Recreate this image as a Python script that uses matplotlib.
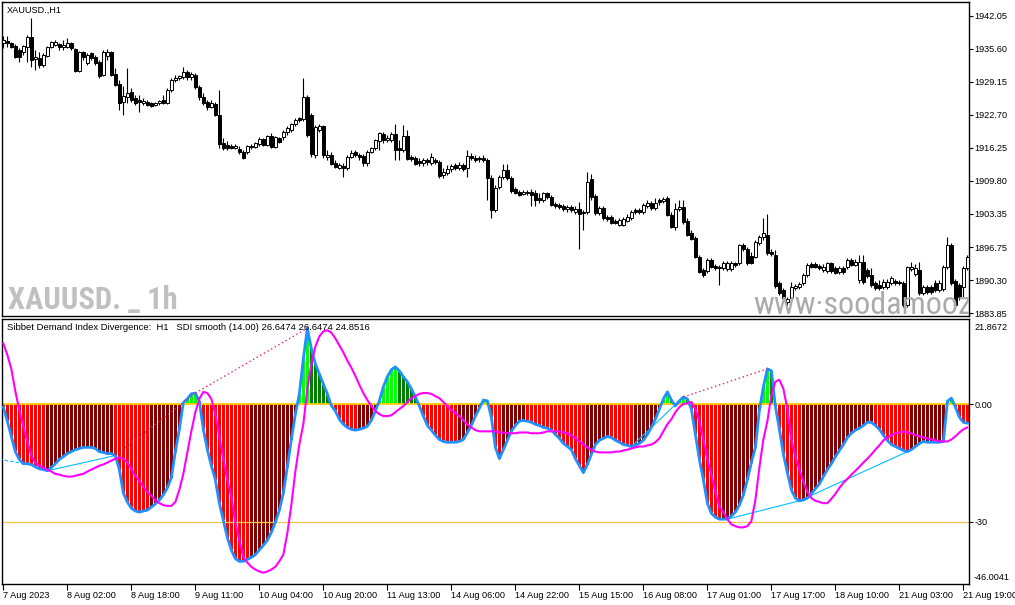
import numpy as np
import matplotlib.pyplot as plt
from matplotlib import font_manager as fm

plt.rcParams['font.family'] = ['Liberation Sans', 'DejaVu Sans']
plt.rcParams['font.size'] = 6.6

# ---- XAUUSD H1 candles (7 Aug 2023 .. 21 Aug 2023) ----
opens = [1936.7, 1937.1, 1936.7, 1936.1, 1935.3, 1934.9, 1935.9, 1937.9, 1933.6, 1933.8,
         1932.4, 1934.2, 1935.9, 1936.3, 1936.5, 1935.9, 1935.9, 1936.7, 1935.5, 1931.2,
         1934.9, 1932.8, 1934.8, 1934.0, 1933.0, 1930.5, 1934.2, 1934.9, 1930.6, 1928.7,
         1925.2, 1926.1, 1927.1, 1925.9, 1925.5, 1925.0, 1925.2, 1925.0, 1924.6, 1925.0,
         1925.5, 1925.0, 1927.5, 1929.5, 1929.9, 1930.1, 1931.0, 1930.1, 1930.5, 1928.1,
         1926.1, 1925.2, 1924.2, 1924.8, 1922.6, 1917.1, 1916.8, 1916.6, 1916.2, 1916.0,
         1915.4, 1915.4, 1916.4, 1916.4, 1916.9, 1917.9, 1916.8, 1918.5, 1916.4, 1918.1,
         1918.3, 1919.3, 1919.7, 1920.9, 1922.0, 1921.8, 1926.1, 1922.6, 1914.8, 1919.7,
         1920.5, 1914.4, 1914.8, 1913.2, 1912.3, 1912.6, 1912.3, 1914.4, 1915.4, 1914.8,
         1914.6, 1913.2, 1915.4, 1916.2, 1917.5, 1918.9, 1917.7, 1917.7, 1918.9, 1916.2,
         1915.8, 1918.5, 1914.4, 1914.2, 1913.6, 1913.2, 1913.8, 1913.2, 1913.8, 1913.4,
         1910.9, 1911.3, 1912.1, 1912.8, 1912.3, 1912.8, 1912.3, 1914.6, 1914.2, 1914.2,
         1914.2, 1913.8, 1910.3, 1904.0, 1908.5, 1910.5, 1911.9, 1910.3, 1908.1, 1907.5,
         1907.2, 1907.4, 1907.5, 1907.4, 1906.4, 1906.0, 1907.4, 1906.6, 1905.2, 1905.0,
         1904.8, 1904.2, 1904.6, 1903.6, 1904.2, 1903.6, 1903.6, 1910.1, 1906.8, 1903.4,
         1904.4, 1902.7, 1902.7, 1901.9, 1901.1, 1901.1, 1901.9, 1902.5, 1904.0, 1904.0,
         1903.6, 1904.8, 1905.4, 1904.4, 1906.0, 1905.8, 1906.4, 1903.1, 1900.7, 1904.2,
         1904.6, 1901.9, 1899.5, 1898.6, 1894.8, 1892.3, 1892.1, 1894.2, 1893.1, 1892.9,
         1892.7, 1892.5, 1892.5, 1893.7, 1893.7, 1897.2, 1896.4, 1895.0, 1894.8, 1897.6,
         1898.8, 1899.2, 1895.8, 1895.2, 1889.7, 1888.4, 1886.0, 1886.8, 1888.8, 1889.0,
         1889.7, 1891.3, 1893.5, 1893.5, 1893.1, 1892.3, 1892.1, 1893.7, 1892.7, 1891.9,
         1892.7, 1892.9, 1894.2, 1893.3, 1890.3, 1893.9, 1892.3, 1891.3, 1889.7, 1889.3,
         1889.0, 1889.0, 1889.7, 1890.1, 1889.9, 1889.7, 1885.4, 1892.5, 1891.5, 1892.3,
         1887.8, 1889.0, 1889.0, 1889.7, 1888.4, 1888.6, 1892.9, 1897.2, 1890.1, 1889.3,
         1889.0, 1892.7]
closes = [1937.3, 1936.7, 1935.9, 1934.0, 1934.0, 1936.1, 1937.9, 1933.4, 1934.0, 1932.4,
          1934.4, 1935.9, 1936.9, 1936.9, 1935.9, 1936.3, 1936.7, 1935.7, 1931.2, 1934.9,
          1934.0, 1934.4, 1933.8, 1932.8, 1930.3, 1934.9, 1934.9, 1930.5, 1928.5, 1925.0,
          1926.3, 1926.9, 1925.5, 1925.0, 1925.2, 1925.4, 1924.6, 1924.4, 1925.0, 1925.4,
          1925.0, 1927.5, 1929.5, 1929.9, 1930.3, 1931.0, 1930.1, 1930.6, 1928.1, 1926.1,
          1925.0, 1924.2, 1925.0, 1922.6, 1916.9, 1916.2, 1916.2, 1916.2, 1916.6, 1915.4,
          1914.2, 1916.6, 1916.6, 1917.1, 1917.9, 1916.8, 1918.5, 1916.4, 1918.3, 1917.3,
          1919.3, 1920.1, 1920.9, 1921.6, 1921.6, 1926.1, 1918.7, 1915.0, 1920.3, 1920.5,
          1914.8, 1914.8, 1913.0, 1912.4, 1912.8, 1912.3, 1914.4, 1915.2, 1914.8, 1914.4,
          1913.2, 1915.4, 1916.2, 1917.7, 1919.1, 1917.7, 1918.1, 1918.9, 1915.8, 1915.8,
          1918.5, 1914.0, 1914.0, 1913.0, 1913.2, 1913.8, 1913.4, 1914.4, 1913.4, 1910.7,
          1911.5, 1912.1, 1912.6, 1912.3, 1912.8, 1912.1, 1914.6, 1914.2, 1913.8, 1914.0,
          1913.8, 1910.3, 1904.0, 1908.3, 1910.5, 1911.9, 1910.3, 1907.7, 1907.4, 1907.0,
          1907.5, 1907.5, 1907.0, 1906.0, 1906.0, 1907.4, 1906.6, 1905.0, 1904.8, 1904.6,
          1904.2, 1904.6, 1904.0, 1904.2, 1903.3, 1903.4, 1909.5, 1906.6, 1903.4, 1904.4,
          1902.5, 1902.3, 1901.5, 1901.5, 1902.1, 1902.3, 1902.7, 1903.6, 1903.6, 1903.6,
          1905.0, 1905.4, 1904.4, 1905.4, 1905.6, 1906.2, 1903.1, 1900.7, 1904.2, 1904.6,
          1901.7, 1899.2, 1898.4, 1894.8, 1891.9, 1891.3, 1894.2, 1892.9, 1892.7, 1892.7,
          1893.7, 1893.7, 1893.7, 1893.3, 1897.2, 1896.4, 1893.7, 1893.7, 1897.8, 1898.8,
          1899.5, 1895.6, 1895.4, 1889.2, 1887.8, 1886.8, 1886.6, 1889.0, 1889.2, 1889.5,
          1891.3, 1893.3, 1892.9, 1892.9, 1892.7, 1892.9, 1893.7, 1892.1, 1891.7, 1892.7,
          1891.9, 1894.2, 1893.3, 1893.9, 1893.9, 1889.9, 1891.1, 1889.3, 1888.8, 1888.8,
          1889.9, 1889.9, 1890.7, 1889.7, 1889.7, 1885.4, 1892.9, 1892.9, 1892.7, 1887.8,
          1889.0, 1888.0, 1888.0, 1888.4, 1889.7, 1892.9, 1897.2, 1889.7, 1885.4, 1887.0,
          1892.7, 1894.8]
highs = [1938.1, 1938.1, 1936.9, 1936.5, 1935.7, 1936.3, 1938.3, 1941.6, 1935.3, 1934.9,
         1934.8, 1936.1, 1937.1, 1937.3, 1936.7, 1937.3, 1937.7, 1936.9, 1935.7, 1935.1,
         1935.1, 1934.8, 1934.9, 1934.4, 1933.4, 1935.3, 1935.5, 1935.1, 1931.8, 1929.5,
         1928.3, 1931.8, 1927.9, 1926.5, 1926.5, 1925.9, 1925.5, 1925.2, 1925.2, 1925.5,
         1926.5, 1927.9, 1929.9, 1930.5, 1930.5, 1932.0, 1931.4, 1931.0, 1930.8, 1928.5,
         1926.9, 1925.5, 1925.5, 1925.2, 1927.5, 1918.1, 1917.5, 1916.9, 1916.9, 1916.6,
         1915.8, 1916.8, 1916.9, 1917.3, 1918.3, 1918.1, 1918.7, 1919.1, 1918.5, 1918.3,
         1919.7, 1920.5, 1921.0, 1922.0, 1922.2, 1929.9, 1926.5, 1923.0, 1920.7, 1920.9,
         1920.7, 1915.8, 1915.4, 1913.8, 1913.2, 1913.2, 1914.8, 1915.8, 1915.8, 1915.2,
         1915.0, 1915.8, 1916.4, 1917.9, 1919.3, 1919.3, 1918.7, 1919.3, 1920.9, 1917.7,
         1920.7, 1919.7, 1914.8, 1914.6, 1914.2, 1914.2, 1914.2, 1915.2, 1914.2, 1913.8,
         1912.3, 1912.8, 1913.0, 1913.2, 1913.4, 1913.2, 1915.8, 1915.2, 1914.8, 1914.6,
         1914.8, 1914.2, 1910.9, 1908.9, 1910.9, 1913.0, 1913.0, 1910.7, 1908.5, 1907.9,
         1907.9, 1907.9, 1908.1, 1907.9, 1907.4, 1907.5, 1907.5, 1907.0, 1905.6, 1905.4,
         1905.2, 1905.0, 1905.0, 1904.8, 1905.6, 1904.0, 1911.5, 1911.1, 1907.2, 1904.8,
         1904.8, 1903.1, 1903.1, 1902.3, 1902.5, 1902.7, 1903.3, 1904.0, 1904.4, 1904.4,
         1905.4, 1906.0, 1905.8, 1906.4, 1906.4, 1906.6, 1906.8, 1903.6, 1905.4, 1906.0,
         1906.0, 1902.5, 1900.1, 1899.0, 1895.2, 1892.7, 1894.6, 1894.6, 1893.5, 1893.3,
         1894.0, 1894.0, 1894.0, 1893.9, 1897.4, 1897.6, 1896.8, 1895.8, 1898.2, 1899.2,
         1902.5, 1903.3, 1896.4, 1896.2, 1890.1, 1888.8, 1887.0, 1889.9, 1889.5, 1889.9,
         1891.7, 1893.7, 1893.9, 1893.9, 1893.5, 1893.5, 1893.9, 1893.9, 1893.1, 1893.1,
         1893.1, 1894.6, 1894.6, 1894.4, 1895.2, 1895.2, 1892.7, 1892.7, 1890.1, 1890.3,
         1890.5, 1890.5, 1891.1, 1890.5, 1890.3, 1890.1, 1893.1, 1893.9, 1893.5, 1893.9,
         1889.3, 1889.3, 1889.3, 1890.3, 1890.3, 1893.3, 1898.8, 1897.6, 1890.5, 1889.7,
         1893.1, 1895.2]
lows = [1935.7, 1935.9, 1935.7, 1933.8, 1933.0, 1934.4, 1933.0, 1932.0, 1931.4, 1931.8,
        1932.0, 1934.0, 1935.7, 1936.1, 1935.3, 1935.3, 1935.7, 1935.3, 1931.0, 1931.0,
        1933.4, 1932.4, 1933.4, 1932.4, 1929.9, 1930.3, 1933.4, 1930.3, 1928.3, 1923.6,
        1922.6, 1925.0, 1925.2, 1924.6, 1923.2, 1924.6, 1924.4, 1924.2, 1924.4, 1924.6,
        1924.8, 1924.8, 1927.1, 1929.1, 1929.5, 1929.7, 1929.5, 1929.5, 1927.7, 1925.5,
        1924.6, 1923.6, 1924.0, 1922.4, 1916.2, 1915.8, 1915.8, 1916.0, 1916.0, 1915.0,
        1914.0, 1915.0, 1916.0, 1916.2, 1916.6, 1916.6, 1916.6, 1916.2, 1916.2, 1917.1,
        1917.7, 1918.7, 1919.3, 1920.5, 1921.2, 1921.4, 1918.3, 1914.4, 1914.2, 1919.3,
        1914.2, 1913.8, 1912.8, 1912.3, 1912.1, 1910.5, 1911.9, 1914.2, 1914.4, 1913.8,
        1912.6, 1912.6, 1915.2, 1915.8, 1915.8, 1917.1, 1917.3, 1917.3, 1913.8, 1913.8,
        1915.4, 1913.8, 1913.6, 1912.8, 1912.6, 1912.6, 1912.8, 1912.8, 1913.0, 1910.3,
        1910.3, 1910.9, 1911.5, 1911.9, 1911.9, 1911.7, 1910.5, 1913.8, 1913.4, 1913.4,
        1913.4, 1906.0, 1902.5, 1903.6, 1908.1, 1910.1, 1909.9, 1907.4, 1907.2, 1906.8,
        1907.0, 1907.0, 1904.8, 1904.8, 1905.4, 1905.6, 1906.2, 1904.8, 1904.4, 1904.2,
        1903.8, 1903.6, 1903.6, 1903.3, 1896.4, 1900.1, 1903.3, 1906.0, 1903.1, 1903.1,
        1902.1, 1901.9, 1901.3, 1901.3, 1900.9, 1900.9, 1901.7, 1902.1, 1903.3, 1903.3,
        1903.3, 1904.4, 1904.0, 1904.0, 1905.0, 1905.4, 1902.9, 1900.5, 1900.1, 1903.8,
        1901.3, 1899.0, 1898.2, 1894.6, 1891.7, 1890.9, 1891.7, 1892.7, 1892.3, 1889.3,
        1892.3, 1892.1, 1892.1, 1892.9, 1893.3, 1896.0, 1893.3, 1893.5, 1894.6, 1897.2,
        1898.2, 1895.2, 1895.0, 1888.8, 1887.4, 1886.4, 1885.4, 1886.4, 1888.4, 1888.6,
        1889.3, 1890.9, 1892.7, 1892.7, 1892.3, 1891.9, 1891.7, 1891.7, 1891.5, 1891.5,
        1891.5, 1892.5, 1893.1, 1893.1, 1889.7, 1889.5, 1890.7, 1889.0, 1888.4, 1888.4,
        1888.6, 1888.6, 1889.3, 1889.3, 1889.3, 1885.1, 1885.1, 1892.1, 1891.1, 1887.4,
        1887.4, 1887.6, 1887.6, 1888.0, 1888.0, 1888.2, 1892.5, 1889.3, 1885.1, 1886.4,
        1887.0, 1892.3]

# ---- Sibbet Demand Index histogram and its smoothed signal ----
sdi = [-0.7, -4.3, -8.2, -12.1, -14.1, -15.2, -15.2, -15.4, -16.0, -16.5,
       -16.7, -17.0, -16.2, -15.2, -14.1, -13.4, -12.6, -12.1, -11.6, -11.3,
       -11.0, -11.0, -11.0, -11.3, -12.1, -12.3, -12.6, -12.6, -13.1, -16.7,
       -22.7, -25.0, -26.6, -27.3, -27.6, -27.3, -27.1, -26.3, -25.5, -24.5,
       -23.2, -21.4, -18.8, -12.1, -6.4, 0.5, 1.4, 2.7, 2.9, 0.8,
       -6.4, -11.6, -15.7, -19.3, -25.3, -29.7, -34.1, -37.3, -39.5, -40.2,
       -40.2, -39.7, -39.2, -38.5, -37.3, -36.1, -34.8, -32.8, -30.2, -27.1,
       -22.7, -16.0, -9.0, -2.5, 2.7, 11.7, 19.5, 14.3, 10.4, 7.8,
       5.2, 2.7, -0.3, -1.7, -3.8, -5.1, -5.9, -6.4, -6.6, -6.4,
       -6.1, -5.6, -4.1, -1.7, 0.9, 4.5, 7.1, 8.9, 9.6, 8.6,
       7.1, 5.8, 4.0, 1.9, -0.4, -3.0, -5.4, -6.6, -7.9, -9.0,
       -9.5, -9.7, -9.7, -9.7, -9.5, -9.0, -7.2, -5.4, -3.0, -1.0,
       1.1, 0.9, -3.3, -11.0, -13.9, -11.6, -9.2, -6.9, -5.4, -4.3,
       -4.1, -4.3, -4.6, -5.1, -5.4, -5.9, -6.1, -6.6, -7.7, -8.7,
       -10.0, -10.8, -11.6, -13.9, -15.7, -17.5, -15.4, -12.8, -10.3, -9.2,
       -8.7, -8.2, -8.5, -9.2, -9.7, -10.3, -10.5, -10.8, -10.5, -10.0,
       -9.2, -7.7, -5.9, -3.8, -1.2, 1.4, 3.2, 1.1, -0.4, 0.9,
       1.9, 1.4, -1.2, -7.7, -14.1, -19.3, -25.3, -27.9, -28.9, -29.4,
       -29.4, -29.4, -28.6, -27.6, -25.8, -23.2, -19.3, -14.9, -11.0, -1.5,
       4.5, 9.1, 8.6, -0.5, -6.4, -12.8, -17.5, -21.9, -24.0, -24.7,
       -24.5, -24.0, -22.9, -21.6, -20.4, -18.5, -16.7, -15.2, -13.4, -11.8,
       -10.3, -8.5, -7.4, -6.6, -6.1, -5.4, -4.6, -4.6, -5.4, -6.4,
       -7.9, -9.2, -10.3, -10.8, -11.3, -11.8, -12.1, -11.6, -10.8, -10.0,
       -9.5, -9.7, -9.7, -9.7, -9.7, -9.5, 0.8, 1.6, -0.7, -3.3,
       -4.6, -4.8]
sdi_smooth = [15.6, 12.7, 9.1, 3.4, -1.5, -5.6, -9.5, -13.1, -14.9, -15.7,
              -16.2, -16.7, -17.2, -17.8, -18.0, -18.3, -18.5, -18.5, -18.3, -18.0,
              -17.8, -17.2, -16.7, -16.2, -15.7, -15.4, -14.9, -14.4, -13.9, -13.6,
              -13.9, -14.9, -16.5, -18.3, -19.6, -21.1, -22.4, -23.4, -24.5, -25.3,
              -25.8, -26.0, -26.0, -25.0, -21.9, -17.8, -12.3, -6.9, -2.0, 1.4,
              3.2, 2.9, 1.4, -2.5, -8.2, -14.1, -19.3, -23.7, -30.2, -34.8,
              -39.2, -40.5, -41.6, -42.3, -42.8, -43.1, -42.8, -42.3, -41.6, -40.2,
              -38.5, -33.0, -25.8, -17.2, -10.3, -5.1, 4.0, 10.4, 14.8, 17.4,
              18.7, 19.0, 18.4, 16.9, 15.1, 13.3, 11.2, 9.4, 7.3, 5.0,
              2.9, 1.1, -0.4, -1.7, -2.5, -3.0, -3.0, -2.8, -2.0, -1.2,
              -0.4, 0.6, 1.6, 2.1, 2.7, 2.9, 2.9, 2.7, 2.1, 1.6,
              0.6, -0.4, -1.5, -2.2, -3.0, -4.1, -5.1, -5.9, -6.6, -6.9,
              -6.9, -6.9, -6.9, -6.9, -7.2, -7.2, -7.4, -7.4, -7.4, -7.2,
              -7.2, -7.2, -7.4, -7.4, -7.4, -7.2, -6.9, -6.9, -6.9, -6.9,
              -7.2, -7.4, -7.9, -8.7, -9.5, -10.3, -11.0, -11.6, -12.1, -12.3,
              -12.3, -12.3, -12.3, -12.1, -12.1, -11.8, -11.6, -11.3, -11.0, -10.8,
              -10.8, -10.5, -10.3, -9.7, -8.7, -6.9, -5.1, -3.8, -2.0, -0.7,
              0.1, 0.3, 0.6, -1.2, -4.3, -9.0, -14.1, -18.0, -22.4, -26.3,
              -27.6, -29.4, -30.7, -31.2, -31.5, -31.5, -31.2, -29.9, -24.5, -16.2,
              -9.0, -4.3, 2.4, 5.8, 6.3, 4.0, -1.2, -9.0, -13.4, -16.7,
              -19.8, -22.4, -24.0, -24.7, -25.0, -25.3, -25.3, -24.2, -22.9, -21.4,
              -20.1, -19.1, -18.0, -17.0, -16.0, -14.9, -13.9, -12.8, -11.6, -10.5,
              -9.2, -8.5, -7.9, -7.4, -7.2, -6.9, -7.2, -7.4, -7.9, -8.2,
              -8.5, -8.7, -9.0, -9.2, -9.5, -9.5, -9.5, -9.0, -8.2, -7.2,
              -6.4, -5.9]

# histogram colour runs: R falling below 0, D rising below 0, L rising above 0, G falling above 0
color_runs = [('R', 11), ('D', 17), ('R', 9), ('D', 8), ('L', 4), ('G', 1), ('R', 12), ('D', 12),
              ('L', 3), ('G', 5), ('R', 7), ('D', 5), ('L', 5), ('G', 5), ('R', 10), ('D', 6),
              ('L', 2), ('R', 3), ('D', 6), ('R', 15), ('D', 6), ('R', 6), ('D', 7), ('L', 2),
              ('G', 1), ('R', 1), ('L', 2), ('G', 1), ('R', 8), ('D', 10), ('L', 2), ('G', 1),
              ('R', 7), ('D', 18), ('R', 9), ('D', 9), ('L', 2), ('R', 4)]
run_colors = {'R': '#FF0000', 'D': '#800000', 'L': '#00FF00', 'G': '#008000'}

# divergence lines (bar index pairs on the SDI line)
bear_div = [(28, 48), (48, 76), (170, 191)]
bull_div = [(11, 28), (157, 169), (181, 199), (199, 226)]
bull_div_left = ([-1, 5], [-14.0, -15.2])

price_ticks = [1942.05, 1935.60, 1929.15, 1922.70, 1916.25, 1909.80, 1903.35, 1896.75, 1890.30, 1883.85]
time_labels = ['7 Aug 2023', '8 Aug 02:00', '8 Aug 18:00', '9 Aug 11:00', '10 Aug 04:00',
               '10 Aug 20:00', '11 Aug 13:00', '14 Aug 06:00', '14 Aug 22:00', '15 Aug 15:00',
               '16 Aug 08:00', '17 Aug 01:00', '17 Aug 17:00', '18 Aug 10:00', '21 Aug 03:00',
               '21 Aug 19:00']

# narrow face for the watermarks, if one is installed
installed = {f.name for f in fm.fontManager.ttflist}
narrow = next((f for f in ['Roboto Condensed', 'Liberation Sans Narrow', 'Open Sans Condensed',
                           'DejaVu Sans Condensed'] if f in installed), None)
dejavu_cond = any(f.name == 'DejaVu Sans' and f.stretch == 'condensed' for f in fm.fontManager.ttflist)
if narrow:
    wm_family, wm_stretch, wm_size, url_size = [narrow, 'Liberation Sans'], 'normal', 22, 23
elif dejavu_cond:
    wm_family, wm_stretch, wm_size, url_size = ['DejaVu Sans'], 'condensed', 19, 19
else:
    wm_family, wm_stretch, wm_size, url_size = ['Liberation Sans'], 'normal', 17, 20

n = len(closes)
x = np.arange(n)
W, H = 1015, 605
fig = plt.figure(figsize=(W / 100, H / 100), dpi=100)


def px_axes(l, t, r, b):
    return fig.add_axes([l / W, 1 - b / H, (r - l) / W, (b - t) / H])


ax1 = px_axes(2, 2, 969, 316)
ax2 = px_axes(2, 319, 969, 584)
xlim = (-0.33, 241.4)

# price panel
o = np.array(opens)
c = np.array(closes)
up = c >= o
ax1.vlines(x, lows, highs, color='black', lw=0.8, zorder=2)
ax1.bar(x, np.maximum(np.abs(c - o), 0.04), bottom=np.minimum(o, c), width=0.72,
        color=['white' if u else 'black' for u in up], edgecolor='black', linewidth=0.7, zorder=3)
ax1.set_xlim(*xlim)
ax1.set_ylim(1883.32, 1944.73)
ax1.set_xticks([])
ax1.yaxis.tick_right()
ax1.set_yticks(price_ticks)
ax1.set_yticklabels([f'{p:.2f}' for p in price_ticks])
ax1.tick_params(axis='y', direction='out', length=3, width=0.8, pad=1)
ax1.text(0.0062, 0.022, 'XAUUSD. _ 1h', transform=ax1.transAxes, fontsize=wm_size,
         fontweight='bold', family=wm_family, fontstretch=wm_stretch, color='#C0C0C0',
         va='baseline')
ax1.text(0.777, 0.006, 'www·soodamooz·com', transform=ax1.transAxes, fontsize=url_size,
         family=wm_family, fontstretch=wm_stretch, color='#ABABAB', va='baseline', clip_on=True)

# indicator panel
bar_colors = []
for code, cnt in color_runs:
    bar_colors += [run_colors[code]] * cnt
ax2.bar(x, sdi, width=0.75, color=bar_colors, linewidth=0, zorder=1)
ax2.axhline(0, color='#FFCC00', lw=1.3, zorder=2)
ax2.axhline(-30, color='#F2C24A', lw=0.9, zorder=2)
for a, b in bull_div:
    ax2.plot([a, b], [sdi[a], sdi[b]], color='#00BFFF', lw=0.8, zorder=3)
ax2.plot(*bull_div_left, color='#00BFFF', lw=0.8, ls=(0, (3, 2)), zorder=3)
ax2.plot(x, sdi, color='#1E90FF', lw=2.0, zorder=4)
ax2.plot(x, sdi_smooth, color='#FF00FF', lw=1.5, zorder=5)
for a, b in bear_div:
    ax2.plot([a, b], [sdi[a], sdi[b]], color='#F0206E', lw=1.0, ls=(0, (1, 2)), zorder=6)

ax2.set_xlim(*xlim)
ax2.set_ylim(-46.0041, 21.8672)
ax2.yaxis.tick_right()
ax2.set_yticks([0, -30])
ax2.set_yticklabels(['0.00', '-30'])
ax2.tick_params(axis='y', direction='out', length=3, width=0.8, pad=1)
ax2.set_xticks(np.arange(0, n, 16)[:len(time_labels)])
ax2.set_xticklabels(time_labels)
for lbl in ax2.get_xticklabels():
    lbl.set_horizontalalignment('left')
ax2.tick_params(axis='x', direction='out', length=4, width=0.8, pad=1)

for ax in (ax1, ax2):
    for s in ax.spines.values():
        s.set_linewidth(1.0)
        s.set_color('black')

fig.text(7 / W, 1 - 10 / H, 'XAUUSD.,H1', va='center', ha='left', color='black')
fig.text(7 / W, 1 - 327 / H,
         'Sibbet Demand Index Divergence:  H1   SDI smooth (14.00) 26.6474 26.6474 24.8516',
         va='center', ha='left', color='black', fontsize=6.8)
fig.text(974 / W, 1 - 327 / H, '21.8672', va='center', ha='left')
fig.text(974 / W, 1 - 578 / H, '-46.0041', va='center', ha='left')

fig.savefig('out.png', dpi=100)
